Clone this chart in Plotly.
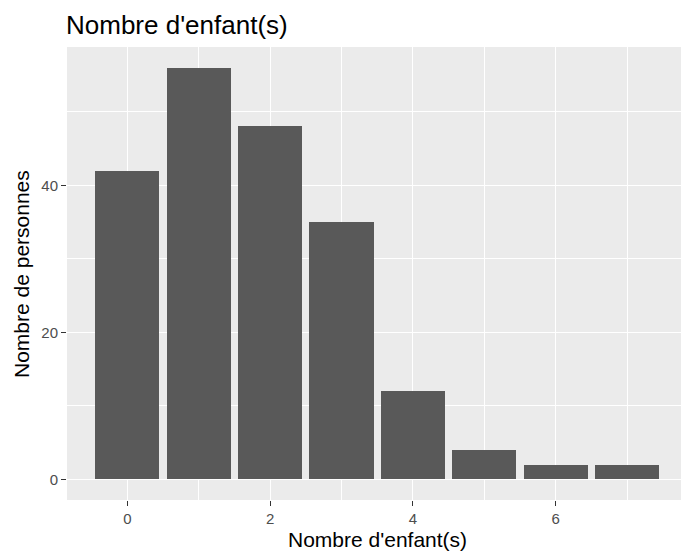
import plotly.graph_objects as go

categories = [0, 1, 2, 3, 4, 5, 6, 7]
counts = [42, 56, 48, 35, 12, 4, 2, 2]
x_ticks = [0, 2, 4, 6]
y_ticks = [0, 20, 40]

FONT = "Liberation Sans, Arial, sans-serif"
W, H = 681, 552

fig = go.Figure(go.Bar(
    x=categories, y=counts, width=0.9,
    marker=dict(color="#595959", line=dict(width=0)),
    hoverinfo="skip",
))

fig.update_layout(
    width=W, height=H,
    margin=dict(l=67, r=0, t=47, b=52),
    paper_bgcolor="white", plot_bgcolor="#EBEBEB",
    font=dict(family=FONT, color="black"),
    title=dict(text="Nombre d'enfant(s)", x=66/W, xanchor="left", xref="container",
               y=1 - 25/H, yanchor="middle", yref="container",
               font=dict(size=26, color="black")),
    showlegend=False,
    bargap=0,
    annotations=[
        dict(text="Nombre d'enfant(s)", xref="paper", yref="paper",
             x=(377 - 67) / (W - 67), y=-(539 - 500) / (500 - 47),
             xanchor="center", yanchor="middle", showarrow=False,
             font=dict(size=21, color="black")),
        dict(text="Nombre de personnes", xref="paper", yref="paper",
             x=-(67 - 21) / (W - 67), y=(500 - 274) / (500 - 47),
             xanchor="center", yanchor="middle", showarrow=False, textangle=-90,
             font=dict(size=21, color="black")),
    ],
)
fig.update_xaxes(
    range=[-0.845, 7.755], tickvals=x_ticks, ticktext=[str(v) for v in x_ticks],
    showgrid=True, gridcolor="white", gridwidth=1.3,
    minor=dict(dtick=1, tick0=1, showgrid=True, gridcolor="white", gridwidth=0.6, ticks=""),
    ticks="outside", ticklen=5, tickcolor="#333333", tickwidth=1.1,
    tickfont=dict(size=15, color="#4D4D4D"),
    zeroline=False, showline=False, automargin=False, fixedrange=True,
)
fig.update_yaxes(
    range=[-2.8, 58.8], tickvals=y_ticks, ticktext=[str(v) for v in y_ticks],
    showgrid=True, gridcolor="white", gridwidth=1.3,
    minor=dict(dtick=10, tick0=10, showgrid=True, gridcolor="white", gridwidth=0.6, ticks=""),
    ticks="outside", ticklen=5, tickcolor="#333333", tickwidth=1.1,
    tickfont=dict(size=15, color="#4D4D4D"),
    zeroline=False, showline=False, automargin=False, fixedrange=True,
)

fig.write_html(
    "out.html",
    config={"displayModeBar": False},
    post_script="document.body.style.margin='0';document.body.style.overflow='hidden';",
)
